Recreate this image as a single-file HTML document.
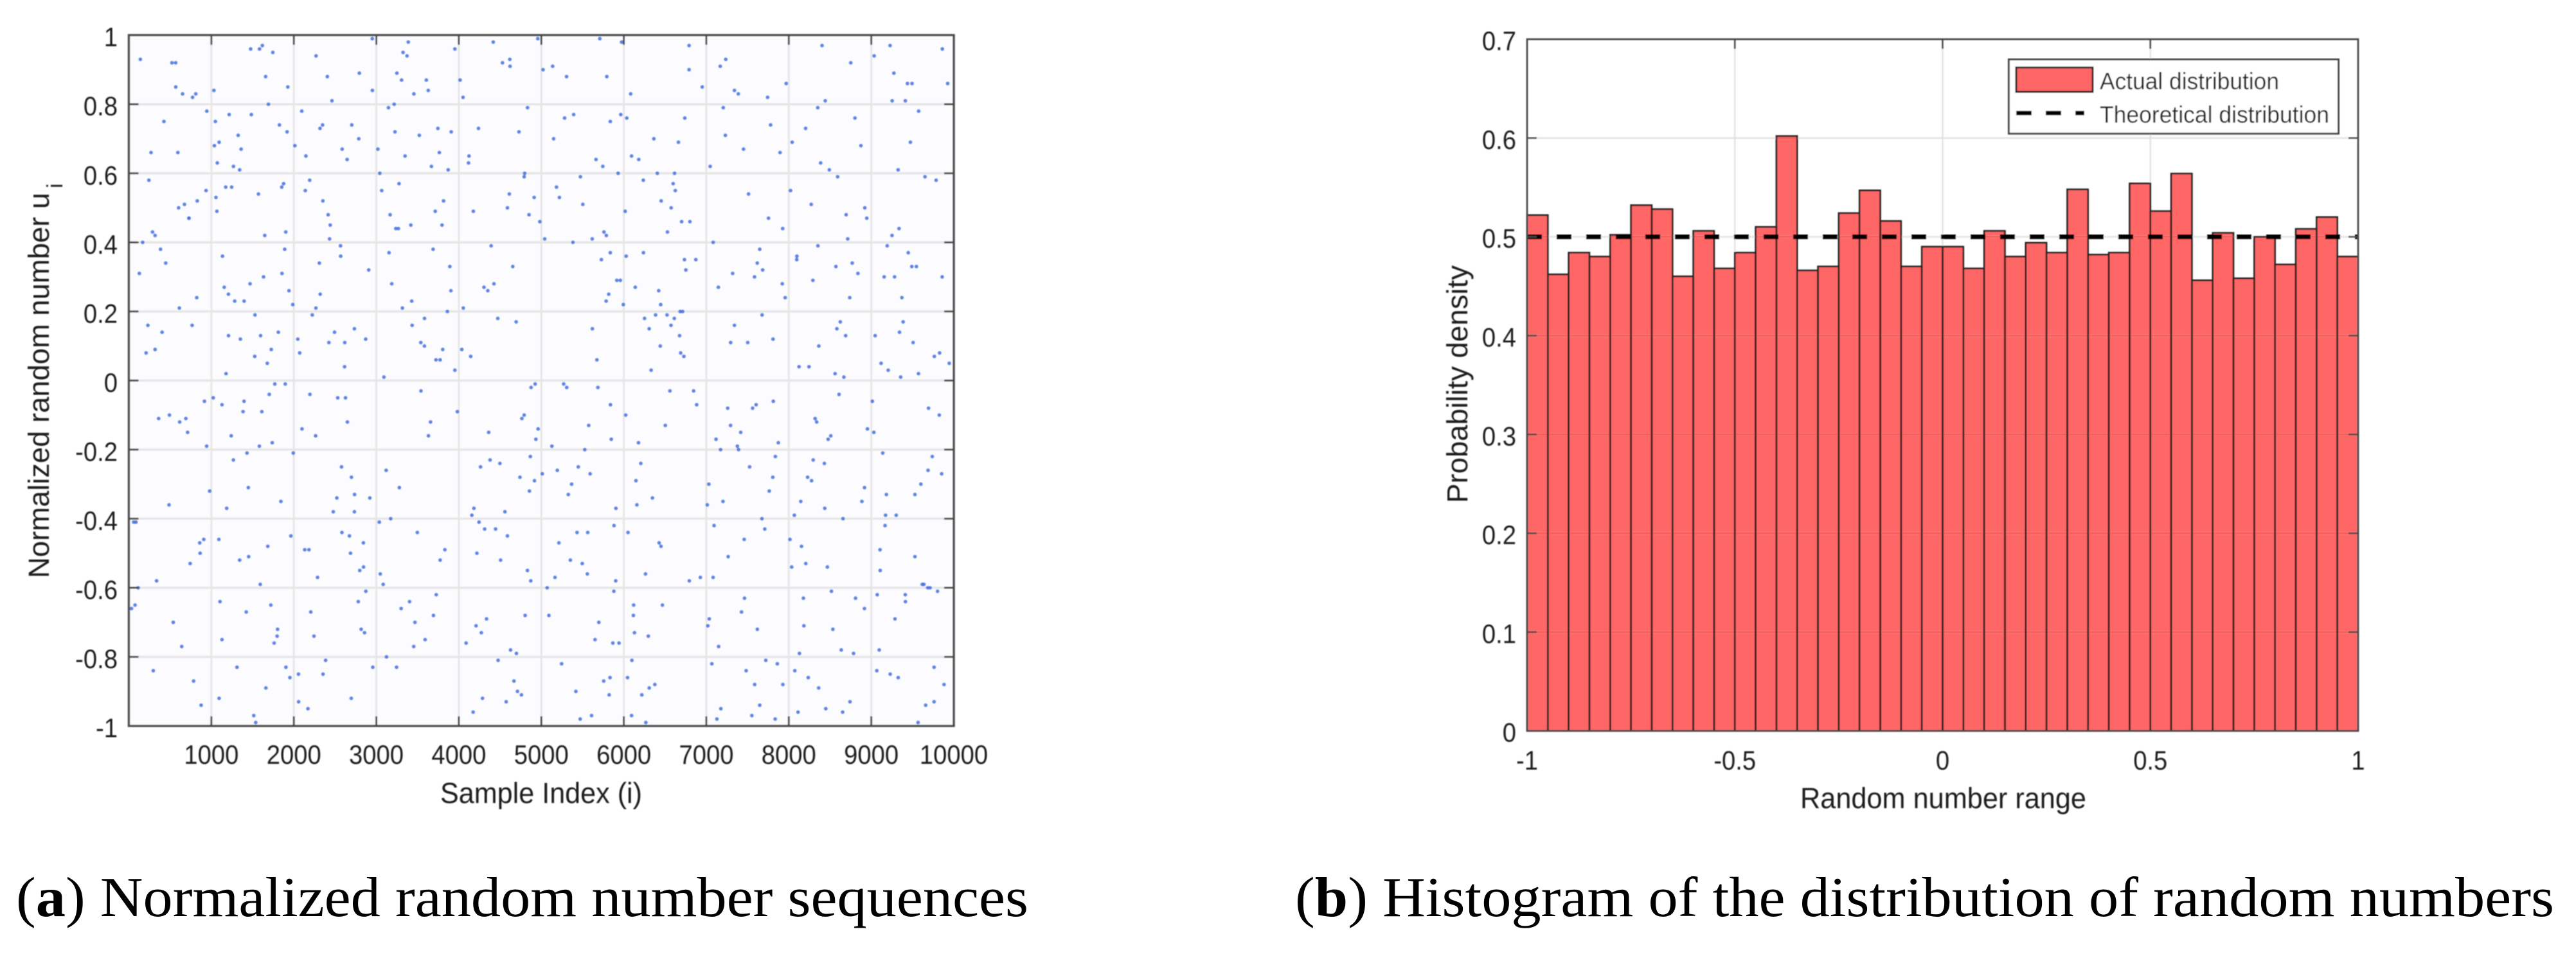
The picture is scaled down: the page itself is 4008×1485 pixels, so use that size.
<!DOCTYPE html>
<html lang="en">
<head>
<meta charset="utf-8">
<title>Normalized random number sequences and histogram</title>
<style>
html,body{margin:0;padding:0;background:#fff;width:4008px;height:1485px;overflow:hidden}
svg{display:block}
text{font-family:"Liberation Sans",Arial,sans-serif;fill:#1f1f1f}
.cap{font-family:"Liberation Serif","Times New Roman",serif;fill:#000;font-size:88px}
</style>
</head>
<body>
<svg id="figure" xmlns="http://www.w3.org/2000/svg" width="4008" height="1485" viewBox="0 0 4008 1485">
  <defs>
    <filter id="soft" x="-2%" y="-2%" width="104%" height="104%"><feGaussianBlur stdDeviation="0.7"/></filter>
  </defs>
  <rect width="4008" height="1485" fill="#fff"/>
  <g id="scatter-panel" filter="url(#soft)">
    <rect id="scatter-bg" x="200.5" y="54.7" width="1283.5" height="1075.3" fill="#fcfcff"/>
    <g id="scatter-grid"></g>
    <g id="scatter-points"></g>
    <g id="scatter-axes"></g>
    <g id="scatter-labels"></g>
    <text x="685" y="1250" font-size="45" textLength="314" lengthAdjust="spacingAndGlyphs">Sample Index (i)</text>
    <text transform="translate(76,900) rotate(-90)" font-size="45" textLength="600" lengthAdjust="spacingAndGlyphs">Normalized random number u</text>
    <text transform="translate(97,293) rotate(-90)" font-size="34">i</text>
  </g>
  <g id="hist-panel" filter="url(#soft)">
    <g id="hist-grid"></g>
    <g id="hist-bars"></g>
    <g id="hist-line"></g>
    <g id="hist-axes"></g>
    <g id="hist-labels"></g>
    <text x="2801" y="1258" font-size="45" textLength="445" lengthAdjust="spacingAndGlyphs">Random number range</text>
    <text transform="translate(2283,783) rotate(-90)" font-size="45" textLength="370" lengthAdjust="spacingAndGlyphs">Probability density</text>
    <g>
      <rect x="3125.5" y="92.5" width="513" height="115.5" fill="#fff" stroke="#444" stroke-width="3"/>
      <rect x="3137" y="105" width="119" height="38" fill="#ff6666" stroke="#222" stroke-width="3"/>
      <text x="3267" y="139" font-size="37" textLength="279" lengthAdjust="spacingAndGlyphs" fill="#111">Actual distribution</text>
      <line x1="3137" y1="176" x2="3243" y2="176" stroke="#000" stroke-width="7" stroke-dasharray="24 22"/>
      <text x="3267" y="191" font-size="37" textLength="357" lengthAdjust="spacingAndGlyphs" fill="#111">Theoretical distribution</text>
    </g>
  </g>
  <text class="cap" x="25" y="1426" textLength="1575" lengthAdjust="spacingAndGlyphs">(<tspan font-weight="bold">a</tspan>) Normalized random number sequences</text>
  <text class="cap" x="2015" y="1426" textLength="1959" lengthAdjust="spacingAndGlyphs">(<tspan font-weight="bold">b</tspan>) Histogram of the distribution of random numbers</text>
</svg>
<script>
const sampleIndex = [
4183,772,9031,2646,6218,1397,7754,5092,318,8467,
3521,9688,1904,6735,243,4876,8129,2269,5563,7341,
1056,9412,3187,6094,691,8802,2433,5327,7618,4015,
1582,9945,3764,6451,127,8236,2871,5709,7082,4498,
945,9173,3316,6883,1721,7926,2058,5184,8571,4627,
403,9529,2794,6147,1268,7483,3952,5836,8014,2317,
616,9287,4351,7169,1843,8695,3048,5471,6612,2586,
58,9764,3629,7837,1129,8353,4792,2195,6376,5958,
1476,8918,3403,7295,829,4934,2702,9106,6029,5246,
1987,8448,3871,7561,287,6794,2462,9853,4209,5619,
1343,8041,3092,7012,522,4668,9371,2139,6503,5788,
1761,8624,3455,7709,916,4123,9618,2908,6267,5392,
209,8296,3714,7427,1618,4559,9047,2385,5931,6846,
1094,8769,3226,7873,743,4305,9494,2674,6129,5503,
1529,8177,3982,7236,384,4741,9229,2013,5674,6428,
1876,8509,3147,7648,1207,4982,9803,2521,6951,5271,
641,8386,3583,7094,1432,4417,9156,2799,5836,6308,
167,8953,3301,7512,1658,4856,9572,2244,6683,5149,
1023,8112,3796,7388,864,4263,9325,2617,6045,5728,
1745,8657,3468,7921,492,4589,9684,2096,6572,5367,
1311,8245,3019,7173,1902,4711,9438,2843,5994,6236,
75,8838,3657,7779,1186,4036,9096,2352,6791,5558,
1597,8431,3249,7036,729,4925,9761,2568,6181,5433,
1918,8073,3904,7604,336,4472,9253,2736,5867,6624,
1241,8714,3372,7265,1526,4804,9547,2171,6406,5012,
568,8319,3726,7956,1067,4158,9882,2493,6739,5686,
1803,8592,3154,7459,943,4621,9119,2287,5915,6098,
269,8886,3539,7128,1692,4379,9336,2781,6524,5219,
1384,8204,3831,7683,785,4957,9601,2048,6297,5745,
1647,8477,3083,7341,1156,4245,9474,2626,5822,6873,
32,8751,3434,7806,1853,4698,9205,2416,6158,5574,
1216,8035,3688,7552,612,4117,9739,2957,6442,5306,
1964,8668,3275,7019,1448,4833,9013,2319,5879,6701,
447,8362,3952,7417,1037,4506,9386,2734,6083,5651,
1702,8921,3119,7231,876,4392,9828,2205,6615,5128,
1283,8154,3606,7861,1571,4764,9282,2857,5973,6347,
113,8583,3348,7674,1129,4051,9567,2441,6712,5496,
1825,8276,3773,7149,674,4618,9167,2099,6238,5833,
1469,8809,3216,7502,1993,4287,9651,2687,5759,6559,
538,8403,3891,7763,1094,4872,9342,2354,6017,5282,
1738,8124,3497,7047,823,4173,9926,2578,6468,5617,
1352,8636,3065,7319,1612,4729,9108,2223,5904,6791,
296,8945,3632,7894,1178,4445,9413,2816,6139,5071,
1889,8228,3324,7586,767,4913,9694,2132,6364,5527,
1514,8491,3805,7202,1031,4336,9251,2649,5786,6928,
425,8067,3167,7721,1769,4654,9072,2406,6676,5194,
1246,8742,3584,7451,908,4088,9859,2951,6024,5352,
1678,8351,3279,7083,1423,4798,9326,2267,5848,6453,
86,8609,3746,7835,1135,4529,9638,2734,6206,5663,
1941,8183,3418,7294,651,4219,9183,2071,6598,5419,
1396,8874,3123,7617,1584,4867,9507,2583,5963,6119,
603,8436,3861,7176,1072,4362,9274,2845,6331,5041,
1797,8292,3541,7968,859,4695,9761,2192,6752,5592,
1325,8517,3236,7376,1661,4144,9035,2478,5817,6263,
361,8021,3692,7743,1208,4589,9448,2696,6094,5308,
1856,8785,3387,7031,728,4961,9712,2348,6447,5756,
1452,8364,3042,7525,1927,4273,9193,2615,5881,6662,
231,8653,3815,7259,1105,4426,9574,2921,6178,5137,
1684,8096,3453,7809,594,4832,9356,2056,6529,5474,
1267,8442,3174,7146,1538,4176,9824,2787,5902,6385,
139,8917,3723,7648,979,4612,9067,2264,6036,5213,
1812,8206,3306,7391,1343,4759,9491,2532,6801,5697,
487,8739,3908,7067,1726,4313,9228,2873,6251,5383,
1174,8338,3591,7584,811,4917,9659,2146,5838,6574,
1593,8561,3267,7928,1049,4054,9302,2425,6116,5021,
712,8098,3774,7205,1896,4476,9786,2698,6423,5609,
1361,8689,3036,7463,567,4851,9139,2309,5942,6728,
1952,8272,3429,7812,1091,4238,9529,2952,6307,5166,
318,8534,3668,7118,1633,4574,9861,2183,6689,5448,
1485,8145,3245,7676,936,4792,9414,2566,5794,6051
];
const sampleValue = [
-0.37,0.82,-0.15,0.64,-0.91,0.23,0.47,-0.68,0.09,-0.54,
0.71,-0.26,-0.83,0.35,0.58,-0.02,-0.79,0.94,-0.44,0.16,
0.53,-0.62,0.28,-0.97,-0.11,0.76,0.41,-0.33,-0.72,0.87,
-0.19,0.05,0.66,-0.48,0.31,-0.86,0.12,0.99,-0.57,-0.24,
0.78,-0.39,0.21,-0.07,-0.65,0.44,-0.93,0.56,0.33,-0.78,
0.14,-0.51,0.89,-0.29,0.62,-0.84,0.03,0.37,-0.46,0.73,
-0.12,-0.69,0.26,0.91,-0.35,0.48,-0.56,-0.98,0.18,0.67,
-0.41,0.07,0.84,-0.22,-0.75,0.39,0.59,-0.04,-0.88,0.29,
0.96,-0.31,-0.64,0.11,0.52,-0.17,0.74,-0.49,0.36,-0.82,
0.22,-0.95,0.61,-0.08,0.43,-0.58,0.81,-0.27,-0.71,0.15,
-0.52,0.69,0.01,-0.36,0.92,-0.87,0.24,0.55,-0.13,0.42,
-0.76,0.17,0.83,-0.43,-0.06,0.65,-0.59,0.32,-0.99,0.77,
0.08,-0.23,0.49,-0.67,0.97,-0.38,0.13,-0.81,0.6,-0.03,
-0.92,0.34,0.72,-0.18,-0.53,0.27,0.86,-0.45,-0.73,0.51,
0.19,-0.63,-0.09,0.93,0.38,-0.28,-0.85,0.68,0.06,-0.47,
0.57,-0.16,0.79,-0.94,0.25,0.46,-0.61,-0.34,0.85,-0.01,
-0.77,0.63,0.1,-0.42,-0.21,0.98,0.3,-0.55,0.75,-0.89,
0.4,-0.14,-0.66,0.54,0.88,-0.32,0.02,-0.74,0.2,0.7,
-0.05,-0.96,0.45,0.83,-0.5,-0.25,0.61,0.11,-0.86,0.35,
0.95,-0.4,-0.7,0.28,-0.1,0.5,-0.6,0.78,0.16,-0.3,
-0.83,0.04,0.67,-0.2,0.43,-0.9,0.86,-0.47,0.22,0.58,
-0.65,0.31,-0.12,0.74,-0.37,0.09,-0.78,0.52,0.97,-0.56,
0.13,-0.24,0.89,-0.69,0.47,-0.01,-0.93,0.36,0.64,-0.44,
0.72,-0.84,0.26,-0.07,-0.58,0.18,0.81,-0.33,-0.76,0.55,
-0.16,0.41,0.94,-0.51,0.07,-0.68,0.33,-0.95,0.6,-0.27,
0.85,-0.11,-0.62,0.24,0.49,-0.39,-0.88,0.14,0.76,-0.02,
-0.72,0.59,0.37,-0.46,-0.19,0.91,0.05,-0.57,0.29,-0.81,
0.66,-0.35,0.11,-0.98,0.8,-0.23,0.44,-0.64,0.19,0.53,
-0.09,0.73,-0.49,0.32,-0.87,0.99,-0.3,0.12,-0.74,0.62,
0.42,-0.17,-0.59,0.84,0.27,-0.41,0.69,-0.05,-0.91,0.35,
-0.66,0.92,0.16,-0.28,0.56,-0.79,0.03,0.48,-0.36,-0.13,
0.77,-0.54,0.38,-0.97,0.21,0.63,-0.22,-0.83,0.1,0.88,
-0.45,0.01,0.57,-0.71,-0.31,0.79,-0.06,0.25,-0.61,0.46,
0.34,-0.89,0.96,-0.15,0.68,-0.52,0.17,-0.38,0.83,-0.75,
-0.04,0.5,-0.26,0.71,-0.94,0.39,0.08,-0.67,0.6,-0.19,
0.23,-0.48,0.87,-0.82,0.54,-0.11,0.3,-0.73,0.98,-0.34,
-0.6,0.15,0.65,-0.4,-0.07,0.82,-0.99,0.45,0.2,-0.53,
0.74,-0.29,0.06,-0.77,0.51,0.93,-0.42,-0.14,0.37,-0.86,
0.28,-0.63,0.8,0.11,-0.21,-0.92,0.59,-0.5,0.43,-0.03,
-0.7,0.97,0.33,-0.32,0.69,-0.58,0.14,-0.85,0.49,0.76,
-0.18,0.04,-0.44,0.62,0.24,-0.96,0.86,-0.25,-0.65,0.41,
0.12,-0.78,0.55,0.31,-0.09,0.72,-0.55,0.19,-0.37,0.9,
-0.84,0.47,-0.16,0.66,0.02,-0.43,0.81,-0.72,0.27,-0.6,
0.38,-0.28,0.95,-0.88,0.16,0.53,-0.08,-0.49,0.7,-0.2,
-0.97,0.61,0.09,-0.35,0.84,-0.69,0.42,-0.12,0.23,-0.57,
0.75,-0.39,0.48,-0.81,-0.01,0.33,-0.62,0.88,0.13,-0.26,
0.56,-0.93,0.18,0.67,-0.46,-0.76,0.3,0.99,-0.1,-0.52,
0.05,0.79,-0.31,0.4,-0.67,0.6,-0.86,0.21,-0.17,0.52,
-0.41,-0.04,0.73,-0.98,0.36,0.92,-0.59,0.15,-0.24,0.64,
0.26,-0.71,0.45,-0.13,0.83,-0.5,-0.33,0.08,0.57,-0.9,
-0.06,0.68,-0.8,0.34,0.96,-0.22,0.11,-0.44,0.77,-0.65,
0.5,-0.37,0.2,-0.95,0.63,-0.15,0.89,-0.54,0.03,0.41,
-0.74,0.29,-0.03,0.86,-0.47,0.17,-0.83,0.58,0.32,-0.27,
0.71,-0.61,0.44,-0.19,-0.89,0.07,0.94,-0.38,0.25,-0.56,
-0.11,0.55,-0.68,0.82,0.13,-0.45,0.37,-0.92,0.65,-0.02,
0.31,-0.79,0.98,-0.3,0.47,-0.14,-0.6,0.74,0.22,-0.87,
-0.51,0.1,0.6,-0.25,0.85,-0.73,0.39,0.04,-0.42,0.69,
0.16,-0.96,0.52,-0.08,-0.64,0.28,0.78,-0.34,-0.18,0.91,
-0.48,0.35,-0.77,0.12,0.66,-0.55,0.01,-0.85,0.43,0.59,
-0.23,0.81,-0.4,0.27,-0.99,0.49,-0.1,0.7,-0.58,0.19,
0.93,-0.66,0.06,0.38,-0.32,0.54,-0.84,-0.16,0.76,-0.47,
0.14,-0.53,0.87,-0.2,0.61,-0.91,0.33,-0.05,0.46,-0.7,
-0.36,0.24,0.72,-0.82,0.09,-0.43,0.97,-0.61,0.18,0.4,
0.56,-0.12,-0.75,0.3,0.83,-0.29,-0.94,0.65,-0.07,0.5,
-0.59,0.02,0.44,-0.88,0.75,0.21,-0.39,0.11,-0.68,0.9,
-0.15,0.36,-0.52,0.79,-0.01,-0.81,0.58,-0.28,0.26,-0.97,
0.67,0.13,-0.41,-0.63,0.92,0.48,-0.21,0.34,-0.76,0.07,
-0.86,0.51,0.23,-0.06,-0.46,0.73,-0.33,0.84,0.15,-0.57,
0.42,-0.72,0.62,-0.17,0.3,-0.93,0.96,-0.49,0.08,-0.25,
0.77,-0.35,-0.83,0.19,0.55,-0.1,-0.64,0.39,0.88,-0.44
];
const scatterXTicks = [1000,2000,3000,4000,5000,6000,7000,8000,9000,10000];
const scatterXLabels = ['1000','2000','3000','4000','5000','6000','7000','8000','9000','10000'];
const scatterYTicks = [1,0.8,0.6,0.4,0.2,0,-0.2,-0.4,-0.6,-0.8,-1];
const scatterYLabels = ['1','0.8','0.6','0.4','0.2','0','-0.2','-0.4','-0.6','-0.8','-1'];

const binDensity = [
0.522,0.462,0.484,0.480,0.502,0.532,0.528,0.460,0.506,0.468,
0.484,0.510,0.602,0.466,0.470,0.524,0.547,0.516,0.470,0.490,
0.490,0.468,0.506,0.480,0.494,0.484,0.548,0.482,0.484,0.554,
0.526,0.564,0.456,0.504,0.458,0.500,0.472,0.508,0.520,0.480
];
const histXTicks = [-1,-0.5,0,0.5,1];
const histXLabels = ['-1','-0.5','0','0.5','1'];
const histYTicks = [0,0.1,0.2,0.3,0.4,0.5,0.6,0.7];
const histYLabels = ['0','0.1','0.2','0.3','0.4','0.5','0.6','0.7'];
const theoreticalDensity = [0.5];

const NS = 'http://www.w3.org/2000/svg';
function make(parent, tag, attrs) {
  const el = document.createElementNS(NS, tag);
  for (const k in attrs) el.setAttribute(k, attrs[k]);
  parent.appendChild(el);
  return el;
}
const sxL = 200.5, sxR = 1484, syT = 54.7, syB = 1130;
const sx = function (v) { return sxL + v / 10000 * (sxR - sxL); };
const sy = function (v) { return syT + (1 - v) / 2 * (syB - syT); };
const hxL = 2376, hxR = 3669, hyT = 61, hyB = 1137.7;
const hx = function (v) { return hxL + (v + 1) / 2 * (hxR - hxL); };
const hy = function (v) { return hyB - v / 0.7 * (hyB - hyT); };
const axisColor = '#4a4a4a';

function tickText(parent, str, x, y, anchor) {
  const t = make(parent, 'text', {
    transform: 'translate(' + x + ',' + y + ') scale(0.91,1)',
    'text-anchor': anchor,
    'font-size': 42
  });
  t.textContent = str;
  return t;
}

/* ---------- scatter ---------- */
const sGrid = document.getElementById('scatter-grid');
const sPts = document.getElementById('scatter-points');
const sAxes = document.getElementById('scatter-axes');
const sLab = document.getElementById('scatter-labels');

scatterYTicks.forEach(function (v, i) {
  const y = sy(v);
  if (v !== 1 && v !== -1) {
    const g = make(sGrid, 'line', { x1: sxL, x2: sxR, y1: y, y2: y, stroke: '#e6e6e6', 'stroke-width': 3.5 });
    
    
    const t1 = make(sAxes, 'line', { x1: sxL, x2: sxL + 15, y1: y, y2: y, stroke: axisColor, 'stroke-width': 3 });
    
    
    const t2 = make(sAxes, 'line', { x1: sxR, x2: sxR - 15, y1: y, y2: y, stroke: axisColor, 'stroke-width': 3 });
    
    
  }
  const l = tickText(sLab, scatterYLabels[i], 183, y + 17.5, 'end');
  
  
});
scatterXTicks.forEach(function (v, i) {
  const x = sx(v);
  if (v !== 10000) {
    const g = make(sGrid, 'line', { x1: x, x2: x, y1: syT, y2: syB, stroke: '#e6e6e6', 'stroke-width': 3 });
    
    
    const t1 = make(sAxes, 'line', { x1: x, x2: x, y1: syB, y2: syB - 15, stroke: axisColor, 'stroke-width': 3 });
    
    
    const t2 = make(sAxes, 'line', { x1: x, x2: x, y1: syT, y2: syT + 15, stroke: axisColor, 'stroke-width': 3 });
    
    
  }
  const l = tickText(sLab, scatterXLabels[i], x, 1189, 'middle');
  
  
});
const nPts = Math.min(sampleIndex.length, sampleValue.length);
for (let i = 0; i < nPts; i++) {
  const p = make(sPts, 'circle', { cx: sx(sampleIndex[i]), cy: sy(sampleValue[i]), r: 3, fill: '#3f6fdc', 'fill-opacity': 0.85 });
  
  
}
const sBox = make(sAxes, 'rect', { x: sxL, y: syT, width: sxR - sxL, height: syB - syT, fill: 'none', stroke: axisColor, 'stroke-width': 3.4 });



/* ---------- histogram ---------- */
const hGrid = document.getElementById('hist-grid');
const hBars = document.getElementById('hist-bars');
const hLine = document.getElementById('hist-line');
const hAxes = document.getElementById('hist-axes');
const hLab = document.getElementById('hist-labels');

histYTicks.forEach(function (v, i) {
  const y = hy(v);
  if (v !== 0 && v !== 0.7) {
    const g = make(hGrid, 'line', { x1: hxL, x2: hxR, y1: y, y2: y, stroke: '#e6e6e6', 'stroke-width': 3 });
    
    
  }
  const l = tickText(hLab, histYLabels[i], 2359, y + 17, 'end');
  
  
});
histXTicks.forEach(function (v, i) {
  const x = hx(v);
  if (v !== -1 && v !== 1) {
    const g = make(hGrid, 'line', { x1: x, x2: x, y1: hyT, y2: hyB, stroke: '#dedede', 'stroke-width': 2 });
    
    
  }
  const l = tickText(hLab, histXLabels[i], x, 1198, 'middle');
  
  
});
const binWidth = 2 / binDensity.length;
binDensity.forEach(function (d, i) {
  const x0 = hx(-1 + i * binWidth), x1 = hx(-1 + (i + 1) * binWidth);
  const b = make(hBars, 'rect', { x: x0, y: hy(d), width: x1 - x0, height: hy(0) - hy(d), fill: '#ff0000', 'fill-opacity': 0.6, stroke: '#222', 'stroke-width': 2.6 });
  
  
});
histYTicks.forEach(function (v) {
  if (v === 0 || v === 0.7) return;
  const y = hy(v);
  const t1 = make(hAxes, 'line', { x1: hxL, x2: hxL + 15, y1: y, y2: y, stroke: axisColor, 'stroke-width': 2.5 });
  
  
  const t2 = make(hAxes, 'line', { x1: hxR, x2: hxR - 15, y1: y, y2: y, stroke: axisColor, 'stroke-width': 2.5 });
  
  
});
histXTicks.forEach(function (v) {
  if (v === -1 || v === 1) return;
  const x = hx(v);
  const t1 = make(hAxes, 'line', { x1: x, x2: x, y1: hyT, y2: hyT + 15, stroke: axisColor, 'stroke-width': 2.5 });
  
  
});
const tl = make(hLine, 'line', { x1: hxL, x2: hxR, y1: hy(theoreticalDensity[0]), y2: hy(theoreticalDensity[0]), stroke: '#000', 'stroke-width': 7, 'stroke-dasharray': '23 23' });


const hBox = make(hAxes, 'rect', { x: hxL, y: hyT, width: hxR - hxL, height: hyB - hyT, fill: 'none', stroke: axisColor, 'stroke-width': 2.8 });


</script>
</body>
</html>
